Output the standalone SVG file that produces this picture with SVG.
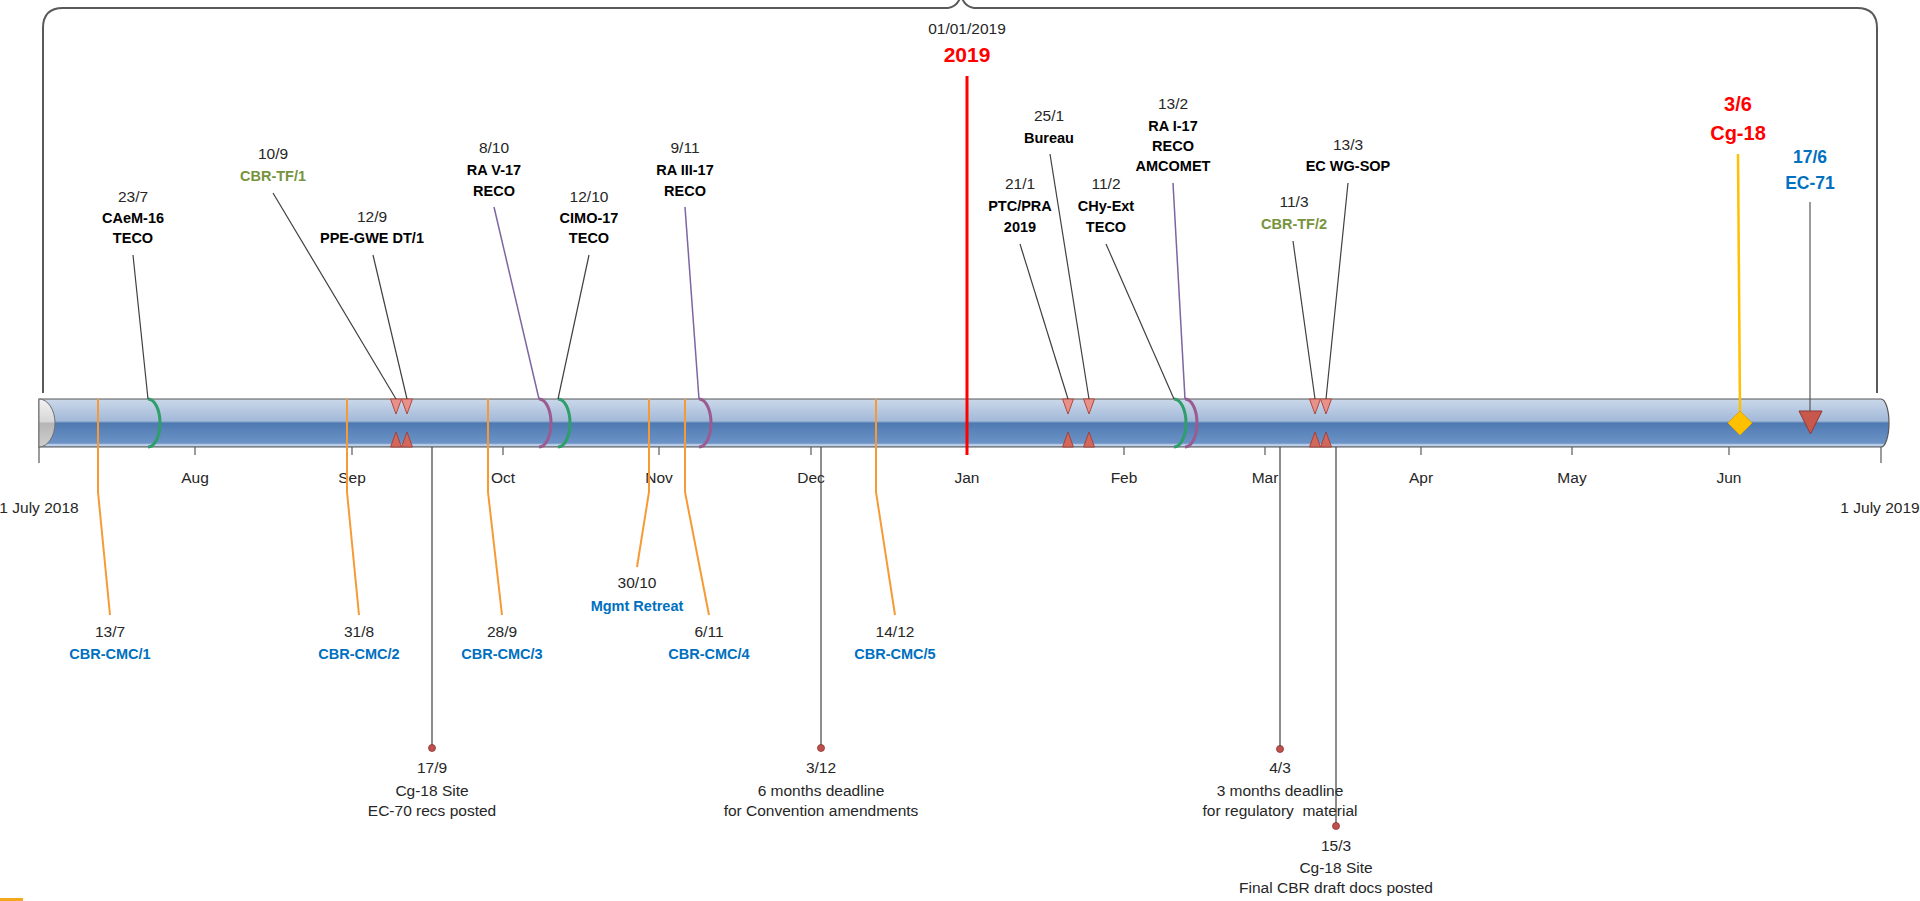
<svg xmlns="http://www.w3.org/2000/svg" width="1920" height="901" viewBox="0 0 1920 901">
<defs>
  <linearGradient id="barG" x1="0" y1="0" x2="0" y2="1">
    <stop offset="0" stop-color="#cbd8ea"/>
    <stop offset="0.46" stop-color="#a2b9d8"/>
    <stop offset="0.5" stop-color="#4e7ab1"/>
    <stop offset="0.92" stop-color="#6c93c7"/>
    <stop offset="0.96" stop-color="#d3dfee"/>
    <stop offset="1" stop-color="#7d9dca"/>
  </linearGradient>
  <linearGradient id="capG" x1="0" y1="0" x2="0" y2="1">
    <stop offset="0" stop-color="#f2f2f2"/>
    <stop offset="0.48" stop-color="#d6d6d6"/>
    <stop offset="0.5" stop-color="#b5b5b5"/>
    <stop offset="1" stop-color="#cfcfcf"/>
  </linearGradient>
  <path id="tdn" d="M-5.5,0 L5.5,0 L0,15 Z"/>
  <path id="tup" d="M-5.5,0 L5.5,0 L0,-15 Z"/>
  <path id="arc" d="M0,0 A12,24 0 0 1 0,48"/>
</defs>
<style>
  text { font-family: "Liberation Sans", Arial, sans-serif; text-anchor: middle; }
  .d { font-size: 15.5px; fill: #262626; }
  .b { font-size: 14.5px; font-weight: bold; fill: #000000; }
  .gr { font-size: 14.5px; font-weight: bold; fill: #77933c; }
  .bl { font-size: 14.5px; font-weight: bold; fill: #0070c0; }
  .big { font-size: 20px; font-weight: bold; fill: #ff0000; }
  .ec { font-size: 17.5px; font-weight: bold; fill: #0070c0; }
  .ln { stroke: #404040; stroke-width: 1.2; fill: none; }
  .pl { stroke: #8064a2; stroke-width: 1.5; fill: none; }
  .or { stroke: #f79a36; stroke-width: 2; fill: none; }
  .tt { fill: #e8918a; stroke: #b0483f; stroke-width: 1; }
  .tb { fill: #d2675b; stroke: #a5433b; stroke-width: 1; }
  .ag { stroke: #2e9e6b; stroke-width: 3; fill: none; }
  .ap { stroke: #9a5b90; stroke-width: 3; fill: none; }
  .dot { fill: #c0504d; stroke: #8c3836; stroke-width: 0.8; }
  .tick { stroke: #595959; stroke-width: 1.2; }
</style>

<!-- bracket -->
<g id="bracket">
  <path d="M43,393 L43,28 Q43,8 63,8 L948,8 Q957,7 961,-4 Q965,7 974,8 L1857,8 Q1877,8 1877,28 L1877,393" fill="none" stroke="#595959" stroke-width="2"/>
</g>

<!-- timeline bar -->
<g id="bar">
  <path d="M39,399 L1881,399 A8,24 0 0 1 1881,447 L39,447 Z" fill="url(#barG)" stroke="#595959" stroke-width="1.2"/>
  <path d="M39,399 A16,24 0 0 1 39,447 Z" fill="url(#capG)" stroke="#6f6f6f" stroke-width="1"/>
</g>

<!-- axis -->
<g id="axis">
  <line class="tick" x1="39" y1="447" x2="39" y2="463"/>
  <line class="tick" x1="1881" y1="447" x2="1881" y2="463"/>
  <line class="tick" x1="195" y1="447" x2="195" y2="455"/>
  <line class="tick" x1="352" y1="447" x2="352" y2="455"/>
  <line class="tick" x1="503" y1="447" x2="503" y2="455"/>
  <line class="tick" x1="659" y1="447" x2="659" y2="455"/>
  <line class="tick" x1="811" y1="447" x2="811" y2="455"/>
  <line class="tick" x1="967" y1="447" x2="967" y2="455"/>
  <line class="tick" x1="1124" y1="447" x2="1124" y2="455"/>
  <line class="tick" x1="1265" y1="447" x2="1265" y2="455"/>
  <line class="tick" x1="1421" y1="447" x2="1421" y2="455"/>
  <line class="tick" x1="1572" y1="447" x2="1572" y2="455"/>
  <line class="tick" x1="1729" y1="447" x2="1729" y2="455"/>
  <text class="d" x="195" y="483">Aug</text>
  <text class="d" x="352" y="483">Sep</text>
  <text class="d" x="503" y="483">Oct</text>
  <text class="d" x="659" y="483">Nov</text>
  <text class="d" x="811" y="483">Dec</text>
  <text class="d" x="967" y="483">Jan</text>
  <text class="d" x="1124" y="483">Feb</text>
  <text class="d" x="1265" y="483">Mar</text>
  <text class="d" x="1421" y="483">Apr</text>
  <text class="d" x="1572" y="483">May</text>
  <text class="d" x="1729" y="483">Jun</text>
  <text class="d" x="39" y="513">1 July 2018</text>
  <text class="d" x="1880" y="513">1 July 2019</text>
</g>

<!-- top events -->
<g id="n-2019">
  <text class="d" x="967" y="34">01/01/2019</text>
  <text class="big" x="967" y="62" style="font-size:21px">2019</text>
</g>
<g id="n-caem16">
  <use href="#arc" x="148" y="399" class="ag"/>
  <text class="d" x="133" y="202">23/7</text>
  <text class="b" x="133" y="223">CAeM-16</text>
  <text class="b" x="133" y="243">TECO</text>
</g>
<g id="n-cbrtf1">
  <use href="#tdn" x="396" y="399" class="tt"/>
  <use href="#tup" x="396" y="447" class="tb"/>
  <text class="d" x="273" y="159">10/9</text>
  <text class="gr" x="273" y="181">CBR-TF/1</text>
</g>
<g id="n-ppegwe">
  <use href="#tdn" x="407" y="399" class="tt"/>
  <use href="#tup" x="407" y="447" class="tb"/>
  <text class="d" x="372" y="222">12/9</text>
  <text class="b" x="372" y="243">PPE-GWE DT/1</text>
</g>
<g id="n-rav">
  <use href="#arc" x="539" y="399" class="ap"/>
  <text class="d" x="494" y="153">8/10</text>
  <text class="b" x="494" y="175">RA V-17</text>
  <text class="b" x="494" y="196">RECO</text>
</g>
<g id="n-cimo">
  <use href="#arc" x="558" y="399" class="ag"/>
  <text class="d" x="589" y="202">12/10</text>
  <text class="b" x="589" y="223">CIMO-17</text>
  <text class="b" x="589" y="243">TECO</text>
</g>
<g id="n-raiii">
  <use href="#arc" x="699" y="399" class="ap"/>
  <text class="d" x="685" y="153">9/11</text>
  <text class="b" x="685" y="175">RA III-17</text>
  <text class="b" x="685" y="196">RECO</text>
</g>
<g id="n-ptc">
  <use href="#tdn" x="1068" y="399" class="tt"/>
  <use href="#tup" x="1068" y="447" class="tb"/>
  <text class="d" x="1020" y="189">21/1</text>
  <text class="b" x="1020" y="211">PTC/PRA</text>
  <text class="b" x="1020" y="232">2019</text>
</g>
<g id="n-bureau">
  <use href="#tdn" x="1089" y="399" class="tt"/>
  <use href="#tup" x="1089" y="447" class="tb"/>
  <text class="d" x="1049" y="121">25/1</text>
  <text class="b" x="1049" y="143">Bureau</text>
</g>
<g id="n-chy">
  <use href="#arc" x="1174" y="399" class="ag"/>
  <text class="d" x="1106" y="189">11/2</text>
  <text class="b" x="1106" y="211">CHy-Ext</text>
  <text class="b" x="1106" y="232">TECO</text>
</g>
<g id="n-rai">
  <use href="#arc" x="1185" y="399" class="ap"/>
  <text class="d" x="1173" y="109">13/2</text>
  <text class="b" x="1173" y="131">RA I-17</text>
  <text class="b" x="1173" y="151">RECO</text>
  <text class="b" x="1173" y="171">AMCOMET</text>
</g>
<g id="n-cbrtf2">
  <use href="#tdn" x="1315" y="399" class="tt"/>
  <use href="#tup" x="1315" y="447" class="tb"/>
  <text class="d" x="1294" y="207">11/3</text>
  <text class="gr" x="1294" y="229">CBR-TF/2</text>
</g>
<g id="n-ecwg">
  <use href="#tdn" x="1326" y="399" class="tt"/>
  <use href="#tup" x="1326" y="447" class="tb"/>
  <text class="d" x="1348" y="150">13/3</text>
  <text class="b" x="1348" y="171">EC WG-SOP</text>
</g>
<g id="n-cg18">
  <path d="M1740,411 L1752,423 L1740,435 L1728,423 Z" fill="#ffc000" stroke="#e0a800" stroke-width="1"/>
  <text class="big" x="1738" y="111">3/6</text>
  <text class="big" x="1738" y="140">Cg-18</text>
</g>
<g id="n-ec71">
  <path d="M1799,411 L1822,411 L1810.5,434 Z" fill="#c9584c" stroke="#8c3836" stroke-width="1"/>
  <text class="ec" x="1810" y="163">17/6</text>
  <text class="ec" x="1810" y="189">EC-71</text>
</g>

<!-- bottom events -->
<g id="n-cmc1">
  <text class="d" x="110" y="637">13/7</text>
  <text class="bl" x="110" y="659">CBR-CMC/1</text>
</g>
<g id="n-cmc2">
  <text class="d" x="359" y="637">31/8</text>
  <text class="bl" x="359" y="659">CBR-CMC/2</text>
</g>
<g id="n-cmc3">
  <text class="d" x="502" y="637">28/9</text>
  <text class="bl" x="502" y="659">CBR-CMC/3</text>
</g>
<g id="n-retreat">
  <text class="d" x="637" y="588">30/10</text>
  <text class="bl" x="637" y="611">Mgmt Retreat</text>
</g>
<g id="n-cmc4">
  <text class="d" x="709" y="637">6/11</text>
  <text class="bl" x="709" y="659">CBR-CMC/4</text>
</g>
<g id="n-cmc5">
  <text class="d" x="895" y="637">14/12</text>
  <text class="bl" x="895" y="659">CBR-CMC/5</text>
</g>
<g id="n-site1">
  <circle class="dot" cx="432" cy="748" r="3.5"/>
  <text class="d" x="432" y="773">17/9</text>
  <text class="d" x="432" y="796">Cg-18 Site</text>
  <text class="d" x="432" y="816">EC-70 recs posted</text>
</g>
<g id="n-6m">
  <circle class="dot" cx="821" cy="748" r="3.5"/>
  <text class="d" x="821" y="773">3/12</text>
  <text class="d" x="821" y="796">6 months deadline</text>
  <text class="d" x="821" y="816">for Convention amendments</text>
</g>
<g id="n-3m">
  <circle class="dot" cx="1280" cy="749" r="3.5"/>
  <text class="d" x="1280" y="773">4/3</text>
  <text class="d" x="1280" y="796">3 months deadline</text>
  <text class="d" x="1280" y="816" style="white-space:pre">for regulatory  material</text>
</g>
<g id="n-site2">
  <circle class="dot" cx="1336" cy="826" r="3.5"/>
  <text class="d" x="1336" y="851">15/3</text>
  <text class="d" x="1336" y="873">Cg-18 Site</text>
  <text class="d" x="1336" y="893">Final CBR draft docs posted</text>
</g>

<rect x="0" y="898" width="23" height="3" fill="#f4a81d"/>

<!-- connectors -->
<g id="connectors">
  <line x1="967" y1="76" x2="967" y2="455" stroke="#ff0000" stroke-width="3"/>
  <line class="ln" x1="133" y1="255" x2="148" y2="399"/>
  <line class="ln" x1="273" y1="193" x2="396" y2="399"/>
  <line class="ln" x1="373" y1="255" x2="407" y2="399"/>
  <line class="pl" x1="494" y1="207" x2="539" y2="399"/>
  <line class="ln" x1="589" y1="255" x2="558" y2="399"/>
  <line class="pl" x1="685" y1="207" x2="699" y2="399"/>
  <line class="ln" x1="1020" y1="244" x2="1068" y2="399"/>
  <line class="ln" x1="1050" y1="154" x2="1089" y2="399"/>
  <line class="ln" x1="1106" y1="244" x2="1174" y2="399"/>
  <line class="pl" x1="1173" y1="183" x2="1185" y2="399"/>
  <line class="ln" x1="1293" y1="241" x2="1315" y2="399"/>
  <line class="ln" x1="1348" y1="183" x2="1326" y2="399"/>
  <line x1="1738" y1="154" x2="1740" y2="411" stroke="#ffc000" stroke-width="2.5"/>
  <line x1="1810" y1="202" x2="1810" y2="411" stroke="#595959" stroke-width="1.2"/>
  <polyline class="or" points="98,399 98,492 110,615"/>
  <polyline class="or" points="347,399 347,492 359,615"/>
  <polyline class="or" points="488,399 488,492 502,615"/>
  <polyline class="or" points="649,399 649,492 637,567"/>
  <polyline class="or" points="685,399 685,492 709,615"/>
  <polyline class="or" points="876,399 876,492 895,615"/>
  <line class="ln" x1="432" y1="447" x2="432" y2="745"/>
  <line class="ln" x1="821" y1="447" x2="821" y2="745"/>
  <line class="ln" x1="1280" y1="447" x2="1280" y2="746"/>
  <line class="ln" x1="1336" y1="447" x2="1336" y2="823"/>
</g>
</svg>
